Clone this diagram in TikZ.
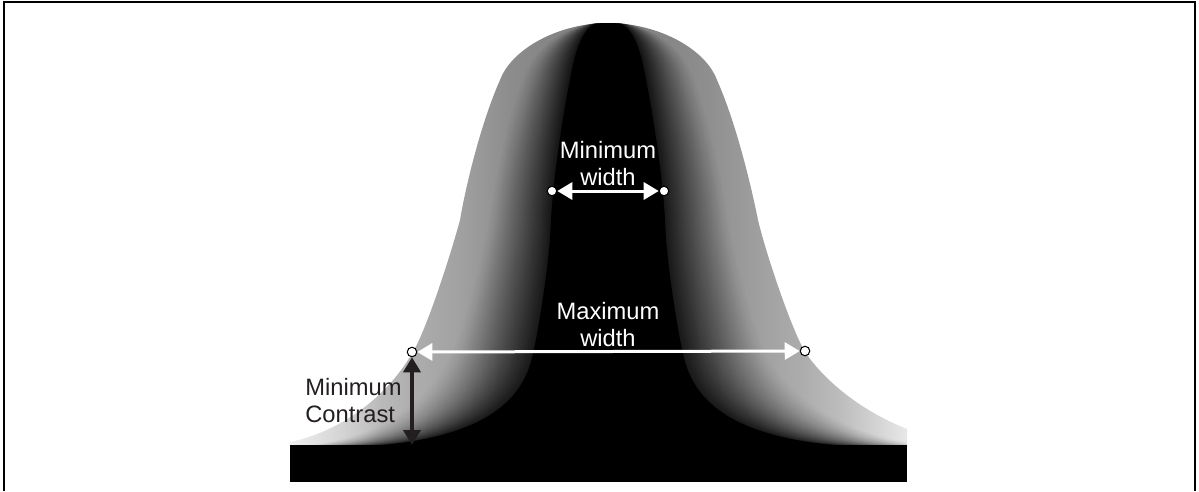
\documentclass[tikz,border=0pt]{standalone}
\usepackage{fontspec}
\setmainfont{Liberation Sans}
\usepackage{tikz}
\usetikzlibrary{arrows.meta,calc}

\definecolor{ink}{HTML}{231F20}

% grey of the outer bell, lighter towards the tails
\pgfdeclarehorizontalshading{bellshade}{100bp}{color(0bp)=(black!6); color(25bp)=(black!6);
  color(29.6bp)=(black!18); color(32.3bp)=(black!27); color(35bp)=(black!32);
  color(38.8bp)=(black!37); color(42.8bp)=(black!45); color(50.8bp)=(black!52);
  color(59bp)=(black!44); color(63.3bp)=(black!37); color(66.7bp)=(black!32);
  color(69.6bp)=(black!26); color(72.2bp)=(black!18); color(75bp)=(black!9); color(100bp)=(black!9)}

% bell outline, #1 = 0 outer edge ... 1 inner black core
\newcommand\bellpath[1]{($(o0)!#1!(i0)$)
  .. controls ($(o1)!#1!(i1)$) and ($(o2)!#1!(i2)$) .. ($(o3)!#1!(i3)$)
  .. controls ($(o4)!#1!(i4)$) and ($(o5)!#1!(i5)$) .. ($(o6)!#1!(i6)$)
  .. controls ($(o7)!#1!(i7)$) and ($(o8)!#1!(i8)$) .. ($(o9)!#1!(i9)$)
  .. controls ($(o10)!#1!(i10)$) and ($(o11)!#1!(i11)$) .. ($(ot)!#1!(it)$)
  .. controls ($(p11)!#1!(j11)$) and ($(p10)!#1!(j10)$) .. ($(p9)!#1!(j9)$)
  .. controls ($(p8)!#1!(j8)$) and ($(p7)!#1!(j7)$) .. ($(p6)!#1!(j6)$)
  .. controls ($(p5)!#1!(j5)$) and ($(p4)!#1!(j4)$) .. ($(p3)!#1!(j3)$)
  .. controls ($(p2)!#1!(j2)$) and ($(p1)!#1!(j1)$) .. ($(p0)!#1!(j0)$) -- cycle}

\tikzset{
  dot/.style={circle,draw=black,fill=white,line width=0.6pt,inner sep=0pt,minimum size=0.19cm},
  warrow/.style={white,line width=0.06cm,{Triangle[length=0.3cm,width=0.34cm]}-{Triangle[length=0.3cm,width=0.34cm]}},
  karrow/.style={ink,line width=0.08cm,{Triangle[length=0.3cm,width=0.34cm]}-{Triangle[length=0.3cm,width=0.34cm]}},
  lab/.style={inner sep=0pt,font=\fontsize{13.5}{15.6}\selectfont}
}

\begin{document}
\begin{tikzpicture}[x=0.02cm,y=-0.02cm]
  \useasboundingbox (0,0) rectangle (1199,491);
  \draw[line width=0.04cm] (4,491) -- (4,2) -- (1195,2) -- (1195,491);

  % outer edge (o left, p right) and black core (i left, j right), with control points
  \foreach \n/\a/\b in {0/250/447,1/330/445,2/385/400,3/413/352,4/428/326,5/452/250,6/460/220,
    7/465/190,8/480/125,9/500/80,10/512/48,11/560/23}
    \coordinate (o\n) at (\a,\b);
  \foreach \n/\a/\b in {0/980/447,1/890/437,2/830/389,3/805/352,4/790/326,5/765/250,6/758/220,
    7/752/190,8/737/125,9/717/80,10/705/48,11/657/23}
    \coordinate (p\n) at (\a,\b);
  \foreach \n/\a/\b in {0/330/447,1/490/447,2/520/395,3/530/365,4/537/343,5/550/260,6/551/220,
    7/553/180,8/562/120,9/570/80,10/576/45,11/585/20}
    \coordinate (i\n) at (\a,\b);
  \foreach \n/\a/\b in {0/886/447,1/726/447,2/696/395,3/686/365,4/679/343,5/666/260,6/665/220,
    7/663/180,8/654/120,9/646/80,10/640/45,11/631/20}
    \coordinate (j\n) at (\a,\b);
  \coordinate (ot) at (608,23);
  \coordinate (it) at (608,20);

  \begin{scope}
    \clip (290,0) rectangle (907,446);
    \clip \bellpath{0};
    \shade[shading=bellshade] (290,0) rectangle (907,446);
    \foreach \k in {1,...,39} {
      \pgfmathsetmacro\t{0.3+0.7*\k/40}
      \pgfmathsetmacro\op{1-(1-0.8*pow(\k/40,1.3))/(1-0.8*pow(max((\k-1)/40,0.0001),1.3))}
      \fill[black,opacity=\op] \bellpath{\t};
    }
    \fill[black] \bellpath{1};
  \end{scope}
  \fill[black] (290,445) rectangle (907,482);

  \node[dot] (minL) at (552,191) {};
  \node[dot] (minR) at (664,191) {};
  \node[dot] (maxL) at (412,352) {};
  \node[dot] (maxR) at (805,351) {};
  \coordinate (foot) at (412,445);

  \draw[warrow] (minL) -- (minR);
  \draw[warrow] (maxL) -- (maxR);
  \draw[karrow] (maxL) -- (foot);

  \node[lab,text=white,align=center,anchor=north] (minlab) at (608,141) {Minimum\\width};
  \node[lab,text=white,align=center,anchor=north] (maxlab) at (608,302) {Maximum\\width};
  \node[lab,text=ink,align=left,anchor=north west] (conlab) at (305,378) {Minimum\\Contrast};
\end{tikzpicture}
\end{document}
